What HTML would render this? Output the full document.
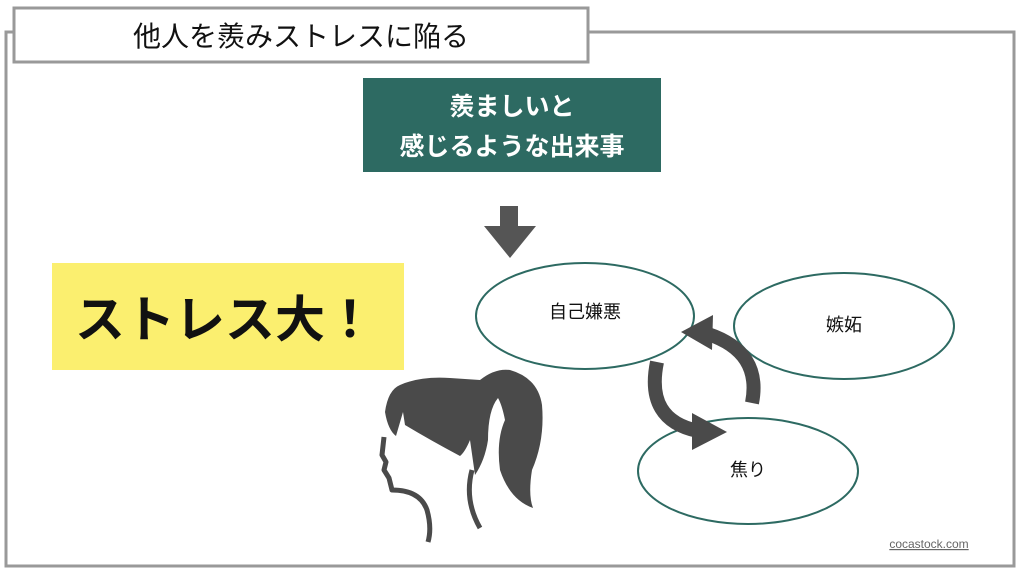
<!DOCTYPE html>
<html><head><meta charset="utf-8"><style>
html,body{margin:0;padding:0;background:#fff;}
body{width:1024px;height:576px;overflow:hidden;font-family:"Liberation Sans","Noto Sans CJK JP",sans-serif;}
</style></head><body>
<svg width="1024" height="576" viewBox="0 0 1024 576" xmlns="http://www.w3.org/2000/svg" style="font-family:'Liberation Sans','Noto Sans CJK JP',sans-serif">
<rect x="6" y="32" width="1008" height="534" fill="none" stroke="#999" stroke-width="3"/>
<rect x="14" y="8" width="574" height="54" fill="#fff" stroke="#999" stroke-width="3"/>
<text x="301" y="46" text-anchor="middle" font-size="28" fill="#111">他人を羨みストレスに陥る</text>
<rect x="363" y="78" width="298" height="94" fill="#2d6a62"/>
<text x="512" y="115" text-anchor="middle" font-size="25" font-weight="bold" fill="#fff">羨ましいと</text>
<text x="512" y="155" text-anchor="middle" font-size="25" font-weight="bold" fill="#fff">感じるような出来事</text>
<polygon points="500,206 518,206 518,226 536,226 510,258 484,226 500,226" fill="#555"/>
<rect x="52" y="263" width="352" height="107" fill="#fbef6f"/>
<text x="225" y="337" text-anchor="middle" font-size="50" font-weight="bold" fill="#111">ストレス大！</text>
<ellipse cx="585" cy="316" rx="109" ry="53" fill="#fff" stroke="#2d6a62" stroke-width="2"/>
<ellipse cx="844" cy="326" rx="110" ry="53" fill="#fff" stroke="#2d6a62" stroke-width="2"/>
<ellipse cx="748" cy="471" rx="110" ry="53" fill="#fff" stroke="#2d6a62" stroke-width="2"/>
<text x="585" y="318" text-anchor="middle" font-size="18" fill="#111">自己嫌悪</text>
<text x="844" y="331" text-anchor="middle" font-size="18" fill="#111">嫉妬</text>
<text x="748" y="476" text-anchor="middle" font-size="18" fill="#111">焦り</text>
<path d="M752,403 Q762,352 708,334" fill="none" stroke="#4a4a4a" stroke-width="14"/>
<polygon points="681,332 713,315 712,350" fill="#4a4a4a"/>
<path d="M657,362 Q645,420 698,431" fill="none" stroke="#4a4a4a" stroke-width="14"/>
<polygon points="727,432 692,413 692,450" fill="#4a4a4a"/>
<path d="M385,412 Q388,390 400,385 Q420,376 450,378 L480,380 Q495,368 510,370 Q538,378 542,405 Q545,440 532,470 Q528,495 533,508 Q510,500 500,470 Q496,440 505,420 Q502,405 498,398 Q488,410 488,440 Q485,460 475,475 L470,440 Q465,452 460,456 Q430,440 405,425 L403,412 L396,436 Q388,430 385,412 Z" fill="#4a4a4a"/>
<path d="M384,437 L382,455 L386,462 L384,470 L389,478 L392,490 Q420,490 427,510 Q432,528 428,542" fill="none" stroke="#4a4a4a" stroke-width="5" stroke-linejoin="round"/>
<path d="M472,470 Q464,500 480,528" fill="none" stroke="#4a4a4a" stroke-width="5"/>
<text x="929" y="548" text-anchor="middle" font-size="12" fill="#666" text-decoration="underline">cocastock.com</text>
</svg>
</body></html>
